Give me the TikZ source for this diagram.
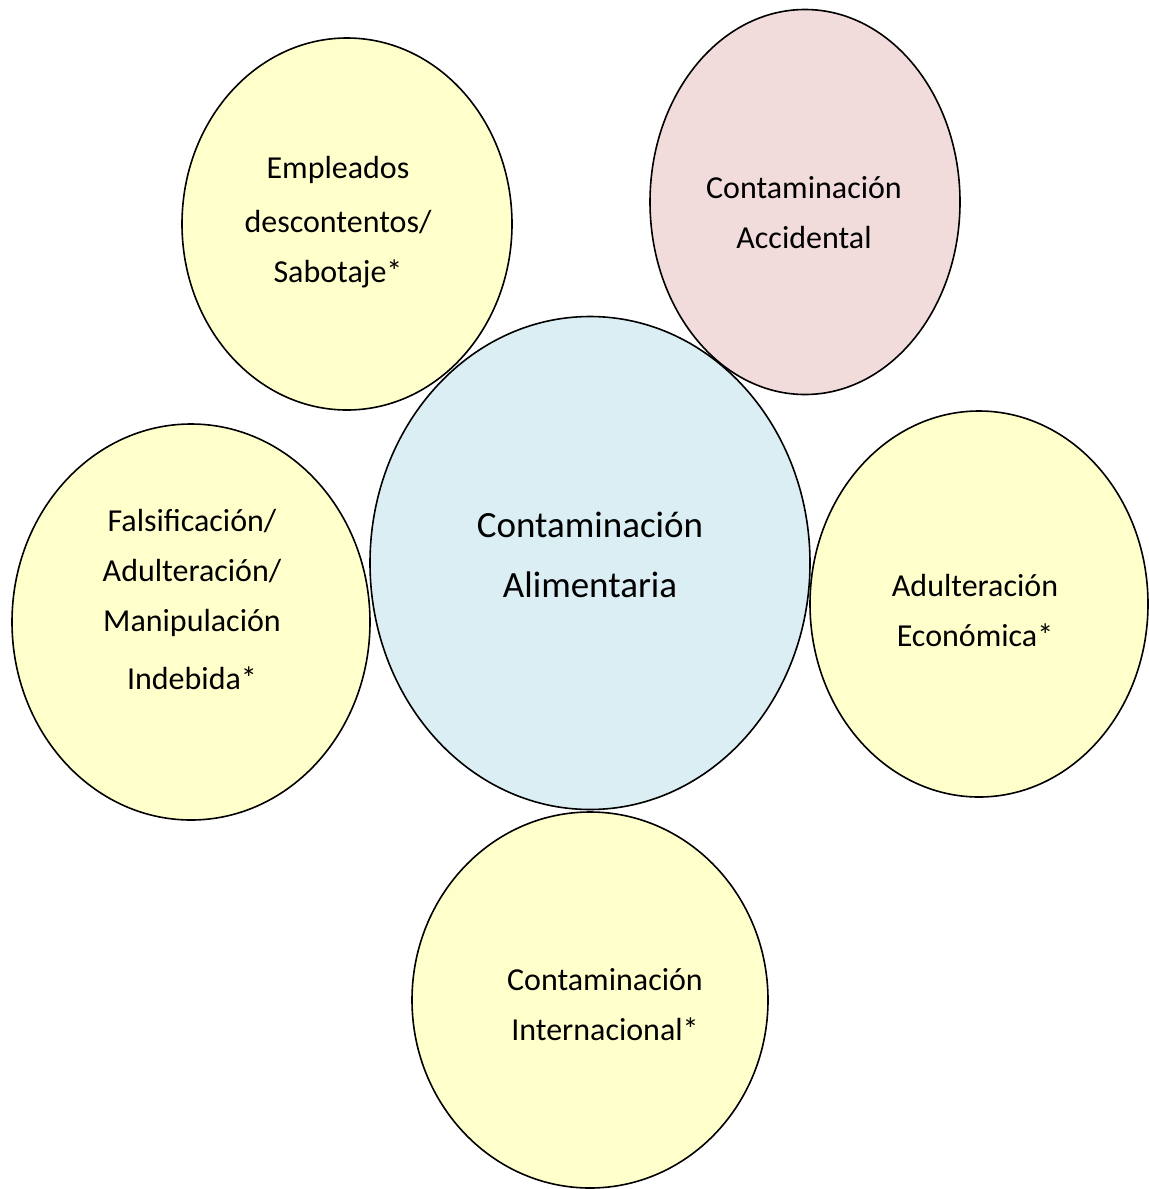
\documentclass[tikz,border=0pt]{standalone}
\usepackage{fontspec}
\setmainfont{Carlito}
\usepackage{tikz}
\usetikzlibrary{shapes.geometric}

\definecolor{amarillo}{HTML}{FFFFCC}
\definecolor{rosa}{HTML}{F2DCDB}
\definecolor{celeste}{HTML}{DAEEF3}

\tikzset{
  burbuja/.style={ellipse,draw=black,line width=0.8pt,inner sep=0pt},
  texto/.style={align=center,font=\fontsize{16}{25}\selectfont},
  textogrande/.style={align=center,font=\fontsize{18.5}{30}\selectfont}
}

\begin{document}
\begin{tikzpicture}[x=0.5pt,y=-0.5pt]
        \useasboundingbox (0,0) rectangle (1149,1189);

        \node[burbuja,fill=amarillo,minimum width=165pt,minimum height=186pt] (E) at (347,224) {};
        \node[burbuja,fill=rosa,minimum width=155pt,minimum height=192.5pt] (A) at (805,202) {};
        \node[burbuja,fill=amarillo,minimum width=179pt,minimum height=198pt] (F) at (191,622) {};
        \node[burbuja,fill=amarillo,minimum width=169pt,minimum height=193pt] (D) at (979,604) {};
        \node[burbuja,fill=amarillo,minimum width=178pt,minimum height=188pt] (I) at (590,1000) {};
        \node[burbuja,fill=celeste,minimum width=220pt,minimum height=246.5pt] (C) at (590,563) {};

        \node[texto] (tE) at (338,222) {Empleados\\[2pt] descontentos/\\ Sabotaje*};
        \node[texto] (tA) at (804,213) {Contaminación\\ Accidental};
        \node[textogrande] (tC) at (590,555) {Contaminación\\ Alimentaria};
        \node[texto] (tF) at (192,599) {Falsificación/\\ Adulteración/\\ Manipulación\\[4pt] Indebida*};
        \node[texto] (tD) at (975,610) {Adulteración\\ Económica*};
        \node[texto] (tI) at (605,1005) {Contaminación\\ Internacional*};
      \end{tikzpicture}
\end{document}
